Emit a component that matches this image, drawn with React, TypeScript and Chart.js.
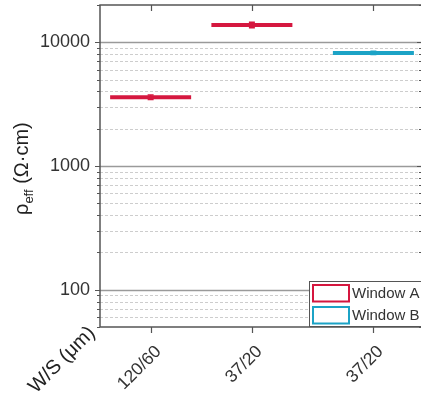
import React, { useEffect, useRef } from 'react';
import { Chart, registerables } from 'chart.js';

Chart.register(...registerables);

// ---- data ----
const categories = ['120/60', '37/20', '37/20'];
const xPositions = [1, 2, 3.2];
const windowA = [3600, 13800, null];
const windowAErr = [150, 700, null];
const windowB = [null, null, 8200];
const windowBErr = [null, null, 250];
const yTickValues = [100, 1000, 10000];
const yTickLabels = ['100', '1000', '10000'];
const seriesNames = ['Window A', 'Window B'];
const seriesColors = ['#d5173f', '#1ca3c6'];

const FONT = '"Liberation Sans", Arial, Helvetica, sans-serif';
const HALF = 0.4;
const CANVAS_W = 430;
const CANVAS_H = 396;

const series = [
  { name: seriesNames[0], values: windowA, errs: windowAErr, color: seriesColors[0] },
  { name: seriesNames[1], values: windowB, errs: windowBErr, color: seriesColors[1] },
];

function buildDatasets() {
  const ds: any[] = [];
  series.forEach((s) => {
    s.values.forEach((v, i) => {
      if (v == null) return;
      ds.push({
        label: s.name,
        data: [
          { x: xPositions[i] - HALF, y: v },
          { x: xPositions[i] + HALF, y: v },
        ],
        showLine: true,
        borderColor: s.color,
        backgroundColor: s.color,
        borderWidth: 4,
        borderCapStyle: 'butt',
        pointRadius: 0,
        _x: xPositions[i],
        _y: v,
        _err: s.errs[i],
      });
    });
  });
  return ds;
}

function minorValues(min: number, max: number) {
  const out: { v: number; major: boolean }[] = [];
  let dec = Math.pow(10, Math.floor(Math.log10(min)));
  while (dec <= max) {
    for (let m = 1; m <= 9; m++) {
      const v = m * dec;
      if (v >= min - 1e-9 && v <= max + 1e-9) out.push({ v, major: m === 1 });
    }
    dec *= 10;
  }
  return out;
}

const gridPlugin = {
  id: 'customGrid',
  beforeDatasetsDraw(chart: any) {
    const { ctx, chartArea: a, scales } = chart;
    const y = scales.y;
    ctx.save();
    minorValues(y.min, y.max).forEach(({ v, major }) => {
      const py = Math.round(y.getPixelForValue(v)) + 0.5;
      if (py < a.top + 1 || py > a.bottom - 1) return;
      ctx.beginPath();
      if (major) {
        ctx.setLineDash([]);
        ctx.strokeStyle = '#9a9a9a';
        ctx.lineWidth = 1.5;
      } else {
        ctx.setLineDash([3, 2]);
        ctx.strokeStyle = '#cdcdcd';
        ctx.lineWidth = 1;
      }
      ctx.moveTo(a.left, py);
      ctx.lineTo(a.right, py);
      ctx.stroke();
    });
    ctx.restore();
  },
};

const overlayPlugin = {
  id: 'overlay',
  afterDatasetsDraw(chart: any) {
    const { ctx, chartArea: a, scales } = chart;
    const x = scales.x;
    const y = scales.y;
    ctx.save();

    // error bars
    chart.data.datasets.forEach((d: any) => {
      if (d._err == null) return;
      const px = x.getPixelForValue(d._x);
      const pt = y.getPixelForValue(d._y + d._err);
      const pb = y.getPixelForValue(d._y - d._err);
      ctx.strokeStyle = d.borderColor;
      ctx.lineWidth = 1.5;
      ctx.setLineDash([]);
      ctx.beginPath();
      ctx.moveTo(px, pt);
      ctx.lineTo(px, pb);
      ctx.moveTo(px - 3, pt);
      ctx.lineTo(px + 3, pt);
      ctx.moveTo(px - 3, pb);
      ctx.lineTo(px + 3, pb);
      ctx.stroke();
    });

    // frame
    ctx.strokeStyle = '#555';
    ctx.lineWidth = 1.5;
    ctx.strokeRect(a.left, a.top, a.right - a.left, a.bottom - a.top);

    // y ticks
    ctx.lineWidth = 1.2;
    minorValues(y.min, y.max).forEach(({ v, major }) => {
      const py = Math.round(y.getPixelForValue(v)) + 0.5;
      const len = major ? 5 : 3;
      ctx.beginPath();
      ctx.moveTo(a.left - len, py);
      ctx.lineTo(a.left, py);
      ctx.moveTo(a.right - len, py);
      ctx.lineTo(a.right, py);
      ctx.stroke();
    });

    // x ticks and labels
    xPositions.forEach((xv, i) => {
      const px = Math.round(x.getPixelForValue(xv)) + 0.5;
      ctx.beginPath();
      ctx.moveTo(px, a.bottom);
      ctx.lineTo(px, a.bottom + 6);
      ctx.moveTo(px, a.top);
      ctx.lineTo(px, a.top + 6);
      ctx.stroke();

      ctx.save();
      ctx.translate(px + 7, a.bottom + 22);
      ctx.rotate(-Math.PI / 4);
      ctx.fillStyle = '#333';
      ctx.font = `17.5px ${FONT}`;
      ctx.textAlign = 'right';
      ctx.textBaseline = 'middle';
      ctx.fillText(categories[i], 0, 0);
      ctx.restore();
    });

    // x title
    ctx.save();
    ctx.translate(92, 330);
    ctx.rotate(-Math.PI / 4);
    ctx.fillStyle = '#222';
    ctx.font = `20px ${FONT}`;
    ctx.textAlign = 'right';
    ctx.textBaseline = 'middle';
    ctx.fillText('W/S (μm)', 0, 0);
    ctx.restore();

    // y title
    ctx.save();
    ctx.translate(28, 215);
    ctx.rotate(-Math.PI / 2);
    ctx.fillStyle = '#222';
    ctx.textAlign = 'left';
    ctx.textBaseline = 'alphabetic';
    ctx.font = `20px ${FONT}`;
    ctx.fillText('ρ', 0, 0);
    let w = ctx.measureText('ρ').width;
    ctx.font = `13px ${FONT}`;
    ctx.fillText('eff', w, 5);
    w += ctx.measureText('eff').width;
    ctx.font = `20px ${FONT}`;
    ctx.fillText(' (Ω·cm)', w, 0);
    ctx.restore();

    // legend
    ctx.fillStyle = '#fff';
    ctx.fillRect(309.5, 281.5, 200, 45);
    ctx.strokeStyle = '#555';
    ctx.lineWidth = 1;
    ctx.strokeRect(309.5, 281.5, 200, 45);
    series.forEach((s, i) => {
      const top = i === 0 ? 285 : 307;
      ctx.strokeStyle = s.color;
      ctx.lineWidth = 2;
      ctx.strokeRect(313, top, 36, 16.5);
      ctx.fillStyle = '#333';
      ctx.font = `15px ${FONT}`;
      ctx.textAlign = 'left';
      ctx.textBaseline = 'middle';
      ctx.fillText(s.name, 352, top + 9);
    });

    ctx.restore();
  },
};

export default function App() {
  const ref = useRef<HTMLCanvasElement | null>(null);
  useEffect(() => {
    if (!ref.current) return;
    const chart = new Chart(ref.current, {
      type: 'scatter',
      data: { datasets: buildDatasets() },
      options: {
        animation: false,
        responsive: false,
        layout: { padding: { left: 0, top: 5, right: 8, bottom: 0 } },
        plugins: { legend: { display: false }, tooltip: { enabled: false } },
        scales: {
          x: {
            type: 'linear',
            min: 0.5,
            max: 3.68,
            grid: { display: false, drawTicks: false },
            border: { display: false },
            ticks: { display: false },
            afterFit: (s: any) => {
              s.height = 69;
              s.paddingLeft = 0;
              s.paddingRight = 0;
              s.paddingTop = 0;
              s.paddingBottom = 0;
            },
          },
          y: {
            type: 'logarithmic',
            min: 50,
            max: 20000,
            grid: { display: false, drawTicks: false },
            border: { display: false },
            afterBuildTicks: (s: any) => {
              s.ticks = yTickValues.map((v) => ({ value: v }));
            },
            ticks: {
              autoSkip: false,
              padding: 10,
              color: '#333',
              font: { family: FONT, size: 18 },
              callback: (v: any) => {
                const i = yTickValues.indexOf(Number(v));
                return i >= 0 ? yTickLabels[i] : '';
              },
            },
            afterFit: (s: any) => {
              s.width = 100;
              s.paddingTop = 0;
              s.paddingBottom = 0;
              s.paddingLeft = 0;
              s.paddingRight = 0;
            },
          },
        },
      } as any,
      plugins: [gridPlugin, overlayPlugin],
    });
    return () => chart.destroy();
  }, []);

  return (
    <div
      style={{
        position: 'fixed',
        left: 0,
        top: 0,
        width: 421,
        height: 396,
        overflow: 'hidden',
        background: '#fff',
      }}
    >
      <canvas ref={ref} width={CANVAS_W} height={CANVAS_H} style={{ display: 'block' }} />
    </div>
  );
}
